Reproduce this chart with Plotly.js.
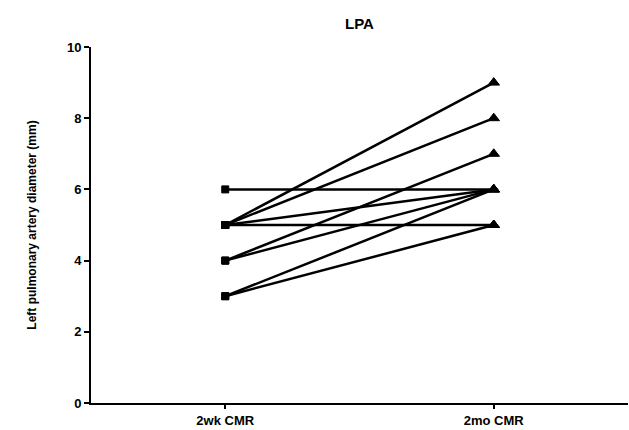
<!DOCTYPE html>
<html>
<head>
<meta charset="utf-8">
<script src="https://cdn.plot.ly/plotly-3.0.1.min.js"></script>
<style>html,body{margin:0;padding:0;background:#fff;}#chart{width:629px;height:430px;}</style>
</head>
<body>
<div id="chart"></div>
<script>
const timepoints = ["2wk CMR", "2mo CMR"];
const week2 = [6, 5, 5, 5, 5, 4, 4, 3, 3];
const month2 = [6, 9, 8, 6, 5, 7, 6, 6, 5];
const yTicks = [0, 2, 4, 6, 8, 10];

const traces = week2.map((v, i) => ({
  type: "scatter",
  mode: "lines+markers",
  x: [0, 1],
  y: [v, month2[i]],
  line: {color: "#000", width: 2.5},
  marker: {color: "#000", opacity: 1, size: [7, 10], symbol: ["square", "triangle-up"], line: {color: "#000", width: 1}},
  cliponaxis: false,
  showlegend: false,
  hoverinfo: "none"
}));

const fam = "Liberation Sans, Arial, sans-serif";

const layout = {
  width: 629, height: 430,
  margin: {l: 91, r: 1, t: 47, b: 27},
  paper_bgcolor: "#fff", plot_bgcolor: "#fff",
  font: {family: fam, size: 13, color: "#000"},
  title: {text: "<b>LPA</b>", x: 0.5, xref: "paper", y: 0.958, yref: "container", font: {family: fam, size: 15, color: "#000"}},
  xaxis: {
    range: [-0.5, 1.5],
    tickvals: [0, 1], ticktext: timepoints.map(t => "<b>" + t + "</b>"),
    showgrid: false, zeroline: false,
    showline: true, linecolor: "#000", linewidth: 2,
    ticks: "outside", ticklen: 4, tickwidth: 2, tickcolor: "#000",
    tickfont: {family: fam, size: 13, color: "#000"},
    fixedrange: true
  },
  yaxis: {
    range: [0, 10],
    tickvals: yTicks, ticktext: yTicks.map(t => "<b>" + t + "</b>"),
    showgrid: false, zeroline: false,
    showline: true, linecolor: "#000", linewidth: 2,
    ticks: "outside", ticklen: 5, tickwidth: 2, tickcolor: "#000",
    tickfont: {family: fam, size: 13, color: "#000"},
    title: {text: "<b>Left pulmonary artery diameter (mm)</b>", standoff: 28, font: {family: fam, size: 12, color: "#000"}},
    automargin: false,
    fixedrange: true
  }
};

Plotly.newPlot("chart", traces, layout, {displayModeBar: false, staticPlot: true});
</script>
</body>
</html>
